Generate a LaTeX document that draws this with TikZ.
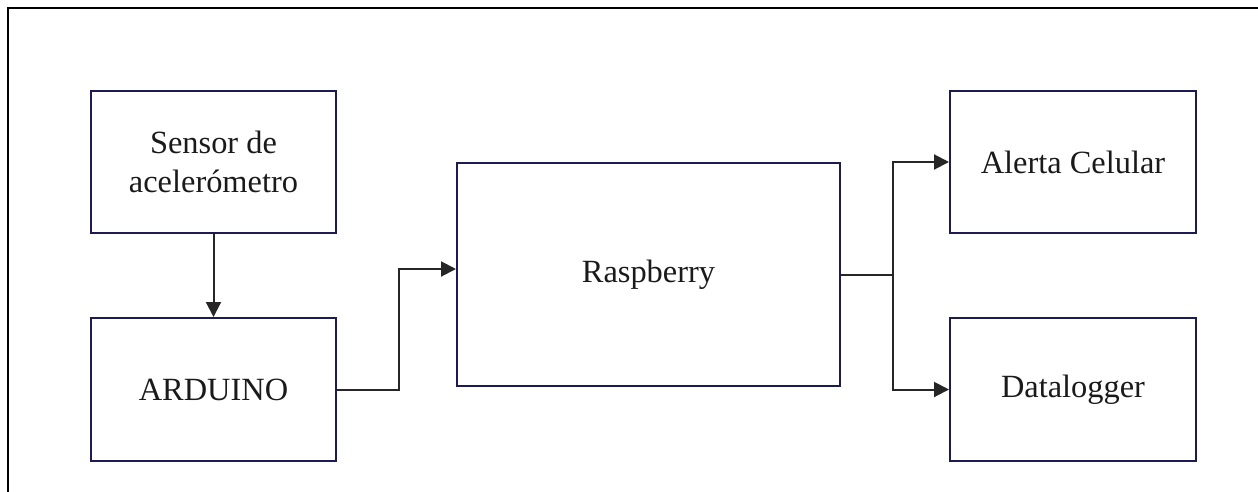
\documentclass[tikz,border=0pt]{standalone}
\usepackage{fontspec}
\setmainfont{Liberation Serif}
\usepackage{xcolor}
\usepackage{tikz}
\usetikzlibrary{arrows.meta,positioning,calc}

\definecolor{boxnavy}{RGB}{28,28,82}
\definecolor{textgray}{RGB}{26,26,26}

\tikzset{
  blockbox/.style={draw=boxnavy, line width=2pt, inner sep=0pt, align=center,
    text=textgray, font=\fontsize{32.4}{39.5}\selectfont},
  flowline/.style={draw=black!85, line width=2pt, -{Triangle[length=15pt,width=15pt]}}
}

\begin{document}
\begin{tikzpicture}[x=1pt, y=-1pt]
        % Page size and outer frame
        \useasboundingbox (0,0) rectangle (1258,491);
        \clip (0,0) rectangle (1258,491);
        \draw[black, line width=2pt] (8,8) rectangle (1272,505);

        % Blocks
        \node[blockbox, minimum width=245pt, minimum height=142pt] (sensor) at (213.5,162) {Sensor de\\acelerómetro};
        \node[blockbox, minimum width=245pt, minimum height=143pt] (arduino) at (213.5,389.5) {ARDUINO};
        \node[blockbox, minimum width=383pt, minimum height=223pt] (raspberry) at (648.5,274.5) {Raspberry};
        \node[blockbox, minimum width=246pt, minimum height=142pt] (alerta) at (1073,162) {Alerta Celular};
        \node[blockbox, minimum width=246pt, minimum height=143pt] (datalogger) at (1073,389.5) {Datalogger};

        % Sensor to Arduino
        \draw[flowline] (sensor) -- (arduino);

        % Arduino to Raspberry
        \draw[flowline] (arduino.east) -- ++(62,0) |- ([yshift=5.5pt]raspberry.west);

        % Raspberry to outputs
        \coordinate (split) at ($(raspberry.east)+(52,0)$);
        \draw[line width=2pt, black!85] (raspberry.east) -- (split);
        \draw[flowline] (split) |- (alerta.west);
        \draw[flowline] (split) |- (datalogger.west);
      \end{tikzpicture}
\end{document}
